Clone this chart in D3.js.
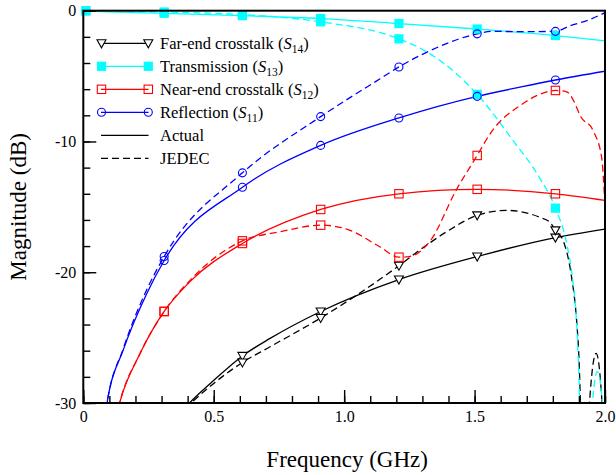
<!DOCTYPE html>
<html>
<head>
<meta charset="utf-8">
<script src="https://cdn.jsdelivr.net/npm/d3@7"></script>
<style>
  body { margin: 0; background: #fff; }
  text { font-family: "Liberation Serif", "Times New Roman", serif; }
</style>
</head>
<body>
<div id="chart"></div>
<script>
// marker frequencies (GHz)
const markerFreqs = [0.01, 0.31, 0.61, 0.91, 1.21, 1.51, 1.81];

// marker values per series (null = outside the plot)
const s14aMk = [null, null, -26.4, -23.0, -20.56, -18.8, -17.35];
const s14jMk = [null, null, -26.9, -23.5, -19.5, -15.65, -16.8];
const s13aMk = [-0.02, -0.2, -0.38, -0.6, -0.98, -1.4, -1.9];
const s13jMk = [0, -0.1, -0.3, -0.85, -2.15, -6.4, -15.1];
const s12aMk = [null, -23.0, -17.8, -15.2, -14.0, -13.66, -14.0];
const s12jMk = [null, -23.0, -17.6, -16.4, -18.85, -11.07, -6.1];
const s11aMk = [null, -19.1, -13.5, -10.3, -8.2, -6.55, -5.3];
const s11jMk = [null, -18.8, -12.4, -8.1, -4.3, -1.77, -1.58];

// extra curve points between markers [freq, dB]
const s14aPts = [[0.36, -31], [0.407, -30], [0.493, -28.4], [0.716, -25.06], [2.0, -16.7]];
const s14jPts = [[0.36, -31], [0.413, -30], [0.5, -28.5], [0.716, -25.7], [1.29, -18.3], [1.393, -16.9], [1.623, -15.27],
                 [1.75, -15.8], [1.79, -16.2], [1.84, -17.6], [1.872, -20.4], [1.89, -23.4], [1.9, -26.5], [1.912, -34],
                 [1.925, -40], [1.939, -30.5], [1.966, -26.2], [1.99, -30.5], [2.0, -36]];
const s13aPts = [[0, 0], [2.0, -2.3]];
const s13jPts = [[0, 0], [1.33, -3.3], [1.65, -10.0], [1.75, -12.8], [1.853, -17.8], [1.878, -20.9], [1.89, -23.5],
                 [1.9, -28], [1.915, -40], [1.935, -40], [1.95, -30.5], [1.971, -27.6], [1.992, -30.5], [2.0, -36]];
const s12aPts = [[0.115, -32], [0.139, -30], [0.218, -26.2], [0.41, -20.7], [2.0, -14.5]];
const s12jPts = [[0.115, -32], [0.139, -30], [0.218, -26.2], [0.41, -20.6], [0.755, -16.9], [1.01, -16.7], [1.138, -18.07],
                 [1.25, -18.8], [1.33, -17.6], [1.43, -13.7], [1.56, -9.4], [1.686, -7.1], [1.738, -6.5], [1.853, -6.2],
                 [1.885, -7.1], [1.904, -8.0], [1.955, -9.2], [1.987, -11.2], [1.996, -13.5], [2.0, -15]];
const s11aPts = [[0.07, -33], [0.091, -30], [0.154, -25.9], [0.244, -21.6], [1.674, -5.85], [2.0, -4.63]];
const s11jPts = [[0.07, -33], [0.091, -30], [0.154, -25.8], [0.244, -21.3], [1.138, -5.2], [1.33, -3.05], [1.57, -1.58],
                 [1.674, -1.6], [1.866, -1.15], [1.93, -0.76], [2.0, -0.15]];

// tick labels
const xMajorTicks = [0, 0.5, 1.0, 1.5, 2.0];
const xTickLabels = ["0", "0.5", "1.0", "1.5", "2.0"];
const yMajorTicks = [0, -10, -20, -30];
const yTickLabels = ["0", "-10", "-20", "-30"];

const W = 616, H = 475;
const margin = {top: 10.7, right: 11, bottom: 72, left: 83.3};
const width = W - margin.left - margin.right;
const height = H - margin.top - margin.bottom;

const svg = d3.select("#chart").append("svg")
    .attr("width", W).attr("height", H);

const g = svg.append("g")
    .attr("transform", `translate(${margin.left},${margin.top})`);

const x = d3.scaleLinear().domain([0, 2]).range([0, width]);
const y = d3.scaleLinear().domain([-30, 0]).range([height, 0]);

const defs = svg.append("defs");
defs.append("clipPath").attr("id", "clip")
  .append("rect").attr("width", width).attr("height", height);
defs.append("clipPath").attr("id", "clip2")
  .append("rect").attr("x", -6).attr("y", -6).attr("width", width + 12).attr("height", height + 6);

// build series
function merge(mk, pts) {
  const all = pts.map(p => [p[0], p[1]]);
  mk.forEach((v, i) => { if (v !== null) all.push([markerFreqs[i], v]); });
  return all.sort((a, b) => a[0] - b[0]);
}
const series = [
  {color: "#000", dash: null, mk: s14aMk, pts: s14aPts, marker: "tri"},
  {color: "#000", dash: "7,4", mk: s14jMk, pts: s14jPts, marker: "tri"},
  {color: "#00ffff", dash: null, mk: s13aMk, pts: s13aPts, marker: "fsq"},
  {color: "#00ffff", dash: "7,4", mk: s13jMk, pts: s13jPts, marker: "fsq"},
  {color: "#ff0000", dash: null, mk: s12aMk, pts: s12aPts, marker: "sq"},
  {color: "#ff0000", dash: "7,4", mk: s12jMk, pts: s12jPts, marker: "sq"},
  {color: "#0000ff", dash: null, mk: s11aMk, pts: s11aPts, marker: "circ"},
  {color: "#0000ff", dash: "7,4", mk: s11jMk, pts: s11jPts, marker: "circ"}
];

const line = d3.line()
    .x(d => x(d[0])).y(d => y(d[1]))
    .curve(d3.curveMonotoneX);

const plot = g.append("g").attr("clip-path", "url(#clip)");

series.forEach(s => {
  plot.append("path")
      .datum(merge(s.mk, s.pts))
      .attr("fill", "none")
      .attr("stroke", s.color)
      .attr("stroke-width", 1.3)
      .attr("stroke-dasharray", s.dash)
      .attr("d", line);
});

function drawMarker(sel, type, color, cx, cy) {
  if (type === "tri") {
    sel.append("path")
      .attr("d", `M${cx - 4.5},${cy - 3.5}L${cx + 4.5},${cy - 3.5}L${cx},${cy + 4.5}Z`)
      .attr("fill", "#fff").attr("stroke", color).attr("stroke-width", 1.1);
  } else if (type === "fsq") {
    sel.append("rect").attr("x", cx - 4.6).attr("y", cy - 4.6).attr("width", 9.2).attr("height", 9.2)
      .attr("fill", color);
  } else if (type === "sq") {
    sel.append("rect").attr("x", cx - 4.2).attr("y", cy - 4.2).attr("width", 8.4).attr("height", 8.4)
      .attr("fill", "none").attr("stroke", color).attr("stroke-width", 1.1);
  } else {
    sel.append("circle").attr("cx", cx).attr("cy", cy).attr("r", 4)
      .attr("fill", "none").attr("stroke", color).attr("stroke-width", 1.1);
  }
}

const markers = g.append("g").attr("clip-path", "url(#clip2)");
series.forEach(s => {
  s.mk.forEach((v, i) => {
    if (v === null) return;
    drawMarker(markers, s.marker, s.color, x(markerFreqs[i]), y(v));
  });
});

// axes
const fontSize = 16;
const xMinor = g.append("g").attr("transform", `translate(0,${height})`)
  .call(d3.axisBottom(x).tickValues(d3.range(0, 21).map(i => i / 10)).tickSize(-7).tickFormat(""));
const xMajor = g.append("g").attr("transform", `translate(0,${height})`)
  .call(d3.axisBottom(x).tickValues(xMajorTicks).tickSize(-13).tickPadding(8)
        .tickFormat((d, i) => xTickLabels[i]));
const yMinor = g.append("g")
  .call(d3.axisLeft(y).tickValues(d3.range(-30, 1, 2)).tickSize(-7).tickFormat(""));
const yMajor = g.append("g")
  .call(d3.axisLeft(y).tickValues(yMajorTicks).tickSize(-13).tickPadding(7)
        .tickFormat((d, i) => yTickLabels[i]));

[xMinor, xMajor, yMinor, yMajor].forEach(a => {
  a.select(".domain").remove();
  a.selectAll("line").attr("stroke", "#000").attr("stroke-width", 1.4);
  a.selectAll("text").attr("font-size", fontSize).attr("fill", "#000")
    .attr("font-family", "'Liberation Serif', serif");
});

// frame
g.append("rect")
    .attr("width", width).attr("height", height)
    .attr("fill", "none").attr("stroke", "#000").attr("stroke-width", 2);

// axis titles
svg.append("text")
    .attr("x", margin.left + width / 2 + 3).attr("y", 467)
    .attr("text-anchor", "middle").attr("font-size", 23)
    .text("Frequency (GHz)");
svg.append("text")
    .attr("transform", `translate(26,${margin.top + height / 2}) rotate(-90)`)
    .attr("text-anchor", "middle").attr("font-size", 23)
    .text("Magnitude (dB)");

// legend
const legendItems = [
  {label: "Far-end crosstalk (", sub: "14", color: "#000", marker: "tri", dash: null},
  {label: "Transmission (", sub: "13", color: "#00ffff", marker: "fsq", dash: null},
  {label: "Near-end crosstalk (", sub: "12", color: "#ff0000", marker: "sq", dash: null},
  {label: "Reflection (", sub: "11", color: "#0000ff", marker: "circ", dash: null},
  {label: "Actual", sub: null, color: "#000", marker: null, dash: null},
  {label: "JEDEC", sub: null, color: "#000", marker: null, dash: "7,4"}
];
const lg = svg.append("g");
legendItems.forEach((d, i) => {
  const ly = 43.3 + i * 23;
  lg.append("line").attr("x1", 101).attr("x2", 148.5).attr("y1", ly).attr("y2", ly)
    .attr("stroke", d.color).attr("stroke-width", 1.3).attr("stroke-dasharray", d.dash);
  if (d.marker) {
    drawMarker(lg, d.marker, d.color, 101.5, ly);
    drawMarker(lg, d.marker, d.color, 148.3, ly);
  }
  const t = lg.append("text").attr("x", 160).attr("y", ly + 5.5).attr("font-size", 16.5);
  t.append("tspan").text(d.label);
  if (d.sub) {
    t.append("tspan").attr("font-style", "italic").text("S");
    t.append("tspan").attr("font-size", 11.5).attr("dy", 4).text(d.sub);
    t.append("tspan").attr("dy", -4).text(")");
  }
});
</script>
</body>
</html>
